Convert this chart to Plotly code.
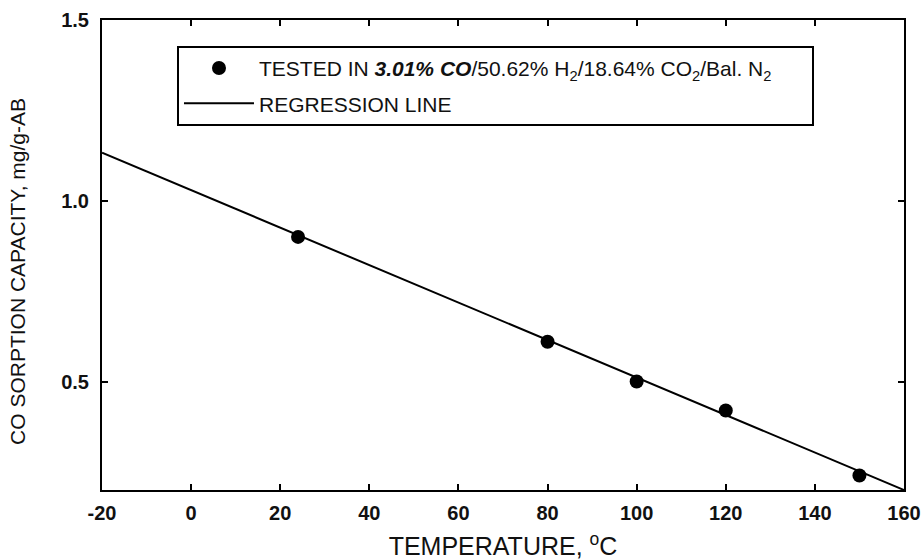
import plotly.graph_objects as go

# Data
temp_c = [24, 80, 100, 120, 150]
co_capacity = [0.90, 0.61, 0.50, 0.42, 0.24]

reg_x = [-20, 160]
reg_y = [1.133, 0.20]

x_ticks = [-20, 0, 20, 40, 60, 80, 100, 120, 140, 160]
x_tick_text = ["-20", "0", "20", "40", "60", "80", "100", "120", "140", "160"]
y_ticks = [0.5, 1.0, 1.5]
y_tick_text = ["0.5", "1.0", "1.5"]

FONT = "Liberation Sans, Arial, Helvetica, sans-serif"
INK = "#111"
PAD = "\u00a0" * 6

fig = go.Figure()
fig.add_trace(go.Scatter(
    x=temp_c, y=co_capacity, mode="markers",
    marker=dict(color="black", size=14),
    name="TESTED IN <b><i>3.01% CO</i></b>/50.62% H<sub>2</sub>/18.64% CO<sub>2</sub>/Bal. N<sub>2</sub>" + PAD,
    legendgroup="a",
))
fig.add_trace(go.Scatter(
    x=reg_x, y=reg_y, mode="lines",
    line=dict(color="black", width=2),
    name="REGRESSION LINE",
    legendgroup="b",
))

fig.update_layout(
    width=923, height=560,
    margin=dict(l=102, r=19, t=20, b=70, autoexpand=False),
    paper_bgcolor="white", plot_bgcolor="white",
    font=dict(family=FONT, color=INK, size=18),
    legend=dict(
        x=0.0935, y=0.945, xanchor="left", yanchor="top",
        bordercolor="black", borderwidth=2, bgcolor="white",
        font=dict(size=21, family=FONT, color=INK),
        tracegroupgap=5, itemwidth=70,
    ),
    showlegend=True,
    annotations=[dict(
        text="CO SORPTION CAPACITY, mg/g-AB",
        textangle=-90, xref="paper", yref="paper",
        x=-0.1047, y=0.464, xanchor="center", yanchor="middle",
        showarrow=False, font=dict(size=21, family=FONT, color=INK),
    )],
)
fig.update_xaxes(
    range=[-20, 160], tickvals=x_ticks, ticktext=x_tick_text,
    showgrid=False, zeroline=False, automargin=False,
    showline=True, linecolor="black", linewidth=2, mirror="ticks",
    ticks="inside", ticklen=6, tickwidth=1.5, tickcolor="black",
    tickfont=dict(size=20, family=FONT, color=INK, weight="bold"),
    ticklabelstandoff=4,
    title=dict(text="TEMPERATURE, <sup>o</sup>C", font=dict(size=25, family=FONT, color=INK), standoff=20),
)
fig.update_yaxes(
    range=[0.2, 1.5], tickvals=y_ticks, ticktext=y_tick_text,
    showgrid=False, zeroline=False, automargin=False,
    showline=True, linecolor="black", linewidth=2, mirror="ticks",
    ticks="inside", ticklen=6, tickwidth=1.5, tickcolor="black",
    tickfont=dict(size=20, family=FONT, color=INK, weight="bold"),
    ticklabelstandoff=7,
)

fig.write_html("out.html")
